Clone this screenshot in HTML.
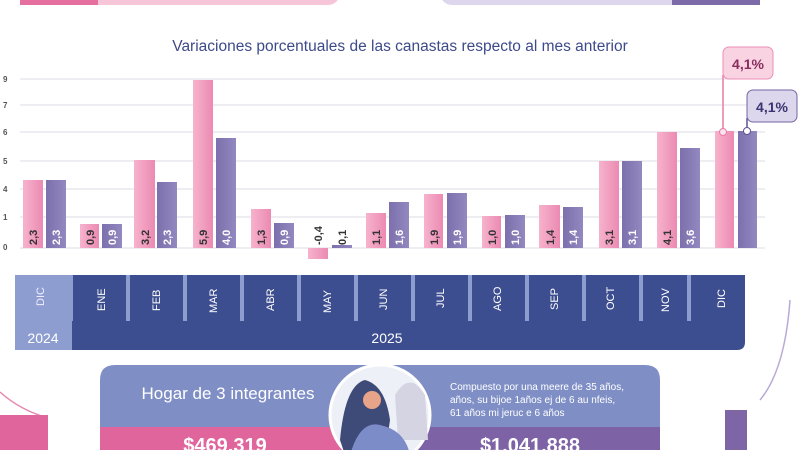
<!DOCTYPE html>
<html><head><meta charset="utf-8"><style>
body{margin:0;width:800px;height:450px;overflow:hidden;background:#fff;font-family:"Liberation Sans",sans-serif}
</style></head><body>
<svg width="800" height="450" viewBox="0 0 800 450" xmlns="http://www.w3.org/2000/svg" font-family="Liberation Sans, sans-serif">
<defs>
<linearGradient id="pk" x1="0" x2="1"><stop offset="0" stop-color="#f6b3cd"/><stop offset="1" stop-color="#ec8ab2"/></linearGradient>
<linearGradient id="pu" x1="0" x2="1"><stop offset="0" stop-color="#7c70ad"/><stop offset="1" stop-color="#9488c0"/></linearGradient>
</defs>
<!-- frame decorations -->
<rect x="20" y="-20" width="320" height="25" rx="12" fill="#f6c6d8"/>
<rect x="20" y="-20" width="78" height="25" rx="0" fill="#e5709f"/>
<rect x="440" y="-20" width="320" height="25" rx="12" fill="#ddd6ec"/>
<rect x="672" y="-20" width="88" height="25" fill="#7d6aa8"/>
<path d="M0 392 Q20 410 48 418" stroke="#e58ab0" stroke-width="1.5" fill="none"/>
<path d="M760 400 Q785 370 790 300" stroke="#b9a9d6" stroke-width="1.5" fill="none"/>
<rect x="0" y="415" width="48" height="40" fill="#e0659c"/>
<rect x="725" y="410" width="22" height="45" fill="#7e65a6"/>
<text x="400" y="51" text-anchor="middle" font-size="15.5" fill="#3d4a8a">Variaciones porcentuales de las canastas respecto al mes anterior</text>
<!-- grid -->
<g stroke="#dcdce6" stroke-width="1">
<line x1="20" x2="765" y1="79" y2="79"/><line x1="20" x2="765" y1="105" y2="105"/>
<line x1="20" x2="765" y1="132" y2="132"/><line x1="20" x2="765" y1="161" y2="161"/>
<line x1="20" x2="765" y1="189" y2="189"/><line x1="20" x2="765" y1="217" y2="217"/>
<line x1="20" x2="765" y1="248" y2="248"/>
</g>
<g font-size="8" fill="#555" font-weight="bold">
<text x="3" y="82">9</text><text x="3" y="108">7</text><text x="3" y="135">6</text><text x="3" y="164">5</text><text x="3" y="192">4</text><text x="3" y="220">1</text><text x="3" y="250">0</text>
</g>
<g>
<rect x="23" y="180" width="20" height="68" fill="url(#pk)"/><rect x="46" y="180" width="20" height="68" fill="url(#pu)"/>
<rect x="80" y="224" width="19" height="24" fill="url(#pk)"/><rect x="102" y="224" width="20" height="24" fill="url(#pu)"/>
<rect x="134" y="160" width="21" height="88" fill="url(#pk)"/><rect x="157" y="182" width="20" height="66" fill="url(#pu)"/>
<rect x="193" y="80" width="20" height="168" fill="url(#pk)"/><rect x="216" y="138" width="20" height="110" fill="url(#pu)"/>
<rect x="251" y="209" width="20" height="39" fill="url(#pk)"/><rect x="274" y="223" width="20" height="25" fill="url(#pu)"/>
<rect x="308" y="248" width="20" height="11" fill="url(#pk)"/><rect x="332" y="245" width="20" height="3" fill="url(#pu)"/>
<rect x="366" y="213" width="20" height="35" fill="url(#pk)"/><rect x="389" y="202" width="20" height="46" fill="url(#pu)"/>
<rect x="424" y="194" width="19" height="54" fill="url(#pk)"/><rect x="447" y="193" width="20" height="55" fill="url(#pu)"/>
<rect x="482" y="216" width="19" height="32" fill="url(#pk)"/><rect x="505" y="215" width="20" height="33" fill="url(#pu)"/>
<rect x="539" y="205" width="21" height="43" fill="url(#pk)"/><rect x="563" y="207" width="20" height="41" fill="url(#pu)"/>
<rect x="599" y="161" width="20" height="87" fill="url(#pk)"/><rect x="622" y="161" width="20" height="87" fill="url(#pu)"/>
<rect x="657" y="132" width="20" height="116" fill="url(#pk)"/><rect x="680" y="148" width="20" height="100" fill="url(#pu)"/>
<rect x="715" y="131" width="19" height="117" fill="url(#pk)"/><rect x="738" y="131" width="19" height="117" fill="url(#pu)"/>
</g>
<g font-size="11" font-weight="bold" fill="#333">
<text transform="translate(37,245) rotate(-90)">2,3</text><text transform="translate(60,245) rotate(-90)" fill="#fff">2,3</text>
<text transform="translate(94,245) rotate(-90)">0,9</text><text transform="translate(116,245) rotate(-90)" fill="#fff">0,9</text>
<text transform="translate(149,245) rotate(-90)">3,2</text><text transform="translate(171,245) rotate(-90)" fill="#fff">2,3</text>
<text transform="translate(207,245) rotate(-90)">5,9</text><text transform="translate(230,245) rotate(-90)" fill="#fff">4,0</text>
<text transform="translate(265,245) rotate(-90)">1,3</text><text transform="translate(288,245) rotate(-90)" fill="#fff">0,9</text>
<text transform="translate(322,245) rotate(-90)">-0,4</text><text transform="translate(346,245) rotate(-90)">0,1</text>
<text transform="translate(380,245) rotate(-90)">1,1</text><text transform="translate(403,245) rotate(-90)" fill="#fff">1,6</text>
<text transform="translate(438,245) rotate(-90)">1,9</text><text transform="translate(461,245) rotate(-90)" fill="#fff">1,9</text>
<text transform="translate(496,245) rotate(-90)">1,0</text><text transform="translate(519,245) rotate(-90)" fill="#fff">1,0</text>
<text transform="translate(554,245) rotate(-90)">1,4</text><text transform="translate(577,245) rotate(-90)" fill="#fff">1,4</text>
<text transform="translate(613,245) rotate(-90)">3,1</text><text transform="translate(636,245) rotate(-90)" fill="#fff">3,1</text>
<text transform="translate(671,245) rotate(-90)">4,1</text><text transform="translate(694,245) rotate(-90)" fill="#fff">3,6</text>
</g>
<!-- callouts -->
<line x1="723" y1="75" x2="723" y2="132" stroke="#e87aa6" stroke-width="1.5"/>
<rect x="723" y="47" width="50" height="32" rx="6" fill="#f9d3e2" stroke="#ec8eb4"/>
<text x="748" y="69" text-anchor="middle" font-size="14" font-weight="bold" fill="#8a2d5e">4,1%</text>
<circle cx="723" cy="132" r="3.5" fill="#fbe2ec" stroke="#e87aa6"/>
<line x1="747" y1="118" x2="747" y2="132" stroke="#5f5290" stroke-width="1.5"/>
<rect x="747" y="90" width="50" height="32" rx="6" fill="#dcd7ec" stroke="#7666a4"/>
<text x="772" y="112" text-anchor="middle" font-size="14" font-weight="bold" fill="#3a3470">4,1%</text>
<circle cx="747" cy="131" r="3.5" fill="#fff" stroke="#5f5290"/>
<!-- month band -->
<path d="M15 275 H745 V342 Q745 350 737 350 H23 Q15 350 15 342 Z" fill="#3d4e90"/>
<rect x="15" y="275" width="48" height="46" fill="#8e9dd0"/>
<rect x="15" y="321" width="57" height="29" fill="#8e9dd0"/>
<path d="M15 321 H72 V350 H23 Q15 350 15 342Z" fill="#8e9dd0"/>
<g fill="#8e9dd0">
<rect x="63" y="275" width="10" height="46"/><rect x="126" y="275" width="4" height="46"/><rect x="183" y="275" width="4" height="46"/>
<rect x="240" y="275" width="4" height="46"/><rect x="297" y="275" width="4" height="46"/><rect x="354" y="275" width="4" height="46"/>
<rect x="411" y="275" width="4" height="46"/><rect x="468" y="275" width="4" height="46"/><rect x="525" y="275" width="4" height="46"/>
<rect x="582" y="275" width="4" height="46"/><rect x="639" y="275" width="4" height="46"/><rect x="687" y="275" width="4" height="46"/>
</g>
<g font-size="11" fill="#fff">
<text transform="translate(44,306) rotate(-90)" fill="#eef">DIC</text>
<text transform="translate(105,311) rotate(-90)">ENE</text>
<text transform="translate(160,311) rotate(-90)">FEB</text>
<text transform="translate(217,313) rotate(-90)">MAR</text>
<text transform="translate(274,311) rotate(-90)">ABR</text>
<text transform="translate(331,313) rotate(-90)">MAY</text>
<text transform="translate(387,310) rotate(-90)">JUN</text>
<text transform="translate(444,308) rotate(-90)">JUL</text>
<text transform="translate(501,311) rotate(-90)">AGO</text>
<text transform="translate(558,310) rotate(-90)">SEP</text>
<text transform="translate(614,310) rotate(-90)">OCT</text>
<text transform="translate(669,312) rotate(-90)">NOV</text>
<text transform="translate(725,308) rotate(-90)">DIC</text>
</g>
<text x="43" y="343" text-anchor="middle" font-size="14" fill="#fff">2024</text>
<text x="387" y="343" text-anchor="middle" font-size="14" fill="#fff">2025</text>
<!-- bottom card -->
<path d="M100 380 Q100 365 115 365 H645 Q660 365 660 380 V455 H100 Z" fill="#7f8fc6"/>
<rect x="100" y="427" width="280" height="30" fill="#e0659c"/>
<rect x="380" y="427" width="280" height="30" fill="#7d62a6"/>
<text x="228" y="399" text-anchor="middle" font-size="17" fill="#fff">Hogar de 3 integrantes</text>
<text x="450" y="390" font-size="10" fill="#fff">Compuesto por una meere de 35 años,</text>
<text x="450" y="403" font-size="10" fill="#fff">años, su bijoe 1años ej de 6 au nfeis,</text>
<text x="450" y="416" font-size="10" fill="#fff">61 años mi jeruc e 6 años</text>
<text x="225" y="452" text-anchor="middle" font-size="20" font-weight="bold" fill="#fff">$469.319</text>
<text x="530" y="452" text-anchor="middle" font-size="20" font-weight="bold" fill="#fff">$1.041.888</text>
<circle cx="380" cy="415" r="50" fill="#eef0f8" stroke="#fff" stroke-width="3"/>
<path d="M340 440 Q345 385 365 380 Q385 385 390 420 L385 455 H345Z" fill="#3e4a78"/>
<path d="M395 395 Q410 370 425 395 L428 440 H398Z" fill="#d4d4e2"/>
<path d="M350 455 Q360 420 380 425 Q405 430 410 455Z" fill="#7c8cc8"/>
<circle cx="372" cy="400" r="9" fill="#e8a488"/>
</svg>
</body></html>
